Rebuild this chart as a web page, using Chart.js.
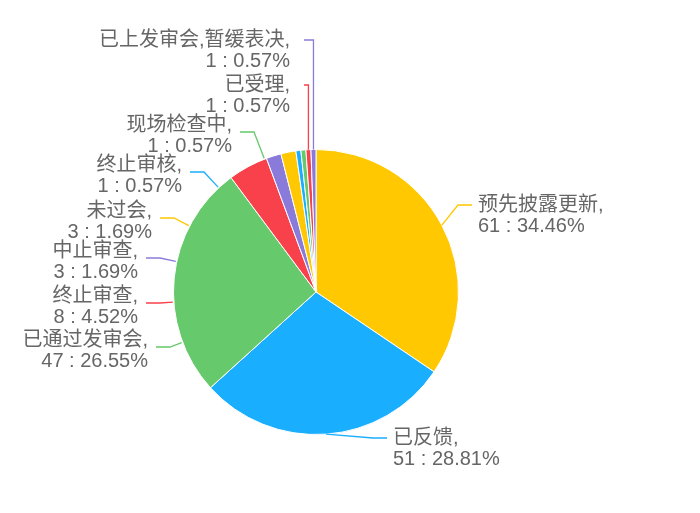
<!DOCTYPE html>
<html>
<head>
<meta charset="utf-8">
<script src="https://cdn.jsdelivr.net/npm/chart.js@4"></script>
<style>
  html, body { margin: 0; padding: 0; background: #fff; }
  #wrap { width: 700px; height: 513px; }
</style>
</head>
<body>
<div id="wrap"><canvas id="chartPie"></canvas></div>
<script>
"use strict";

const categories = ['预先披露更新', '已反馈', '已通过发审会', '终止审查', '中止审查', '未过会', '终止审核', '现场检查中', '已受理', '已上发审会,暂缓表决'];
const counts = [61, 51, 47, 8, 3, 3, 1, 1, 1, 1];
const percents = ['34.46%', '28.81%', '26.55%', '4.52%', '1.69%', '1.69%', '0.57%', '0.57%', '0.57%', '0.57%'];
const colors = ['#FFC800', '#1AAEFF', '#66C96B', '#F8414B', '#8A7BDB', '#FFC800', '#1AAEFF', '#66C96B', '#F8414B', '#8A7BDB'];

// label placement: [x of text edge, y of first line, side]
const labelPos = [
    [478, 205, 'right'], [393, 438, 'right'], [148, 340, 'left'], [138, 296, 'left'],
    [138, 251, 'left'], [152, 211, 'left'], [182, 165, 'left'], [232, 125, 'left'],
    [290, 85, 'top'], [290, 40, 'top']
];

const leaderPlugin = {
    id: 'leaders',
    afterDatasetsDraw(chart) {
        const ctx = chart.ctx;
        const arcs = chart.getDatasetMeta(0).data;
        ctx.save();
        ctx.font = '20px "Liberation Sans", "Noto Sans CJK SC", sans-serif';
        ctx.textBaseline = 'middle';
        arcs.forEach((arc, i) => {
            const mid = (arc.startAngle + arc.endAngle) / 2;
            const r = arc.outerRadius;
            let ax = arc.x + Math.cos(mid) * r, ay = arc.y + Math.sin(mid) * r;
            const [tx, ty, side] = labelPos[i];
            ctx.strokeStyle = colors[i];
            ctx.lineWidth = 1.3;
            ctx.beginPath();
            if (side === 'right') {
                ctx.moveTo(ax, ay);
                ctx.lineTo(tx - 20, ty);
                ctx.lineTo(tx - 6, ty);
            } else if (side === 'left') {
                const ex = tx + 22, ey = ty + 7;
                const ang = Math.atan2(ey - arc.y, ex - arc.x);
                ax = arc.x + Math.cos(ang) * (r + 1);
                ay = arc.y + Math.sin(ang) * (r + 1);
                ctx.moveTo(ax, ay);
                ctx.lineTo(ex, ey);
                ctx.lineTo(tx + 8, ey);
            } else {
                ctx.moveTo(ax, ay);
                ctx.lineTo(ax, ty);
                ctx.lineTo(tx + 14, ty);
            }
            ctx.stroke();
            ctx.fillStyle = '#666666';
            ctx.textAlign = side === 'right' ? 'left' : 'right';
            ctx.fillText(categories[i] + ',', tx, ty);
            ctx.fillText(counts[i] + ' : ' + percents[i], tx, ty + 21);
        });
        ctx.restore();
    }
};

const pie = document.getElementById('chartPie').getContext('2d');
var chartPie = new Chart(pie, {
    type: 'pie',
    data: {
        labels: categories,
        datasets: [{
            data: counts,
            backgroundColor: colors,
            borderColor: '#ffffff',
            borderWidth: 1
        }]
    },
    options: {
        responsive: true,
        maintainAspectRatio: false,
        animation: false,
        layout: { padding: { top: 149, bottom: 78, left: 173, right: 241 } },
        plugins: { legend: { display: false }, tooltip: { enabled: false } }
    },
    plugins: [leaderPlugin]
});
</script>
</body>
</html>
